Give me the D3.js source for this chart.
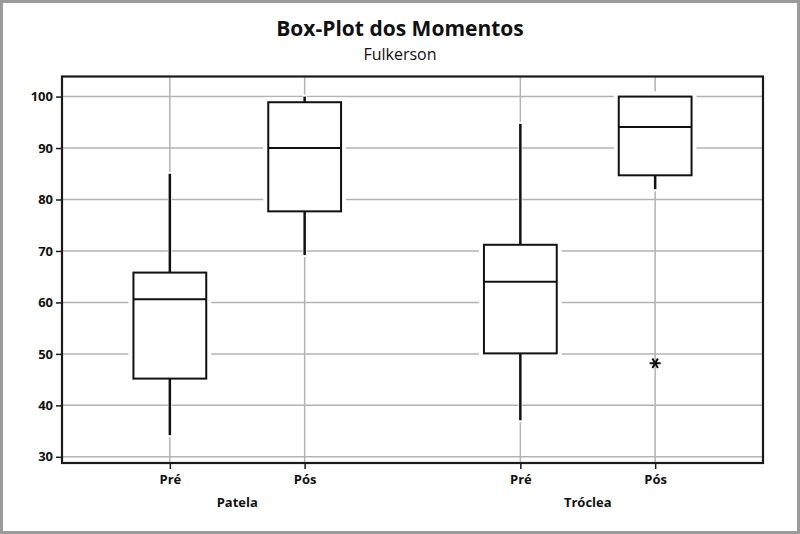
<!DOCTYPE html>
<html>
<head>
<meta charset="utf-8">
<script src="https://cdn.jsdelivr.net/npm/d3@7"></script>
<style>
  html, body { margin: 0; padding: 0; background: #fff; }
  svg { display: block; }
  text { font-family: "Open Sans", "DejaVu Sans", sans-serif; }
</style>
</head>
<body>
<svg id="chart" width="800" height="534"></svg>
<script>
// ---- Data ----
const groups = ["Patela", "Tróclea"];
const moments = ["Pré", "Pós"];
const whiskerLow  = [34.2, 69.2, 37.1, 82.0];
const q1          = [45.2, 77.7, 50.1, 84.7];
const median      = [60.6, 90.0, 64.0, 94.1];
const q3          = [65.8, 98.9, 71.2, 100.0];
const whiskerHigh = [85.0, 100.0, 94.7, 100.0];
const outlierGroup  = ["Tróclea"];
const outlierMoment = ["Pós"];
const outlierValue  = [48.2];
const yTicks = [30, 40, 50, 60, 70, 80, 90, 100];
const title = "Box-Plot dos Momentos";
const subtitle = "Fulkerson";

// ---- Layout ----
const W = 800, H = 534;
const plot = { left: 62, right: 763, top: 76.5, bottom: 463 };
const groupStep = 2.6;   // slot units between groups
const boxWidthUnits = 0.54;

const svg = d3.select("#chart");

// outer gray frame
svg.append("rect").attr("x", 1.5).attr("y", 1.5).attr("width", W - 3).attr("height", H - 3)
  .attr("fill", "#fff").attr("stroke", "#9a9a9a").attr("stroke-width", 3);

const x = d3.scaleLinear().domain([0.2, 5.4]).range([plot.left, plot.right]);
const y = d3.scaleLinear().domain([28.8, 103.9]).range([plot.bottom, plot.top]);

// build boxes
const boxes = [];
groups.forEach((g, gi) => {
  moments.forEach((m, mi) => {
    const i = gi * moments.length + mi;
    boxes.push({
      group: g, moment: m, slot: 1 + gi * groupStep + mi,
      lo: whiskerLow[i], q1: q1[i], med: median[i], q3: q3[i], hi: whiskerHigh[i]
    });
  });
});
const slotOf = (g, m) => boxes.find(b => b.group === g && b.moment === m).slot;

// gridlines
const grid = svg.append("g").attr("stroke", "#b3b3b3").attr("stroke-width", 1.5);
grid.selectAll("line.h").data(yTicks).join("line").attr("class", "h")
  .attr("x1", plot.left).attr("x2", plot.right)
  .attr("y1", d => y(d)).attr("y2", d => y(d));
grid.selectAll("line.v").data(boxes).join("line").attr("class", "v")
  .attr("x1", d => x(d.slot)).attr("x2", d => x(d.slot))
  .attr("y1", plot.top).attr("y2", plot.bottom);

// boxes with white halo
const bw = x(boxWidthUnits) - x(0);
const bg = svg.append("g");
// halos
bg.selectAll("line.wh").data(boxes.filter(b => b.hi > b.q3)).join("line")
  .attr("x1", d => x(d.slot)).attr("x2", d => x(d.slot))
  .attr("y1", d => y(d.q3)).attr("y2", d => y(d.hi) - 2)
  .attr("stroke", "#fff").attr("stroke-width", 4);
bg.selectAll("line.wl").data(boxes.filter(b => b.lo < b.q1)).join("line")
  .attr("x1", d => x(d.slot)).attr("x2", d => x(d.slot))
  .attr("y1", d => y(d.q1)).attr("y2", d => y(d.lo) + 2)
  .attr("stroke", "#fff").attr("stroke-width", 4);
bg.selectAll("rect.halo").data(boxes).join("rect")
  .attr("x", d => x(d.slot) - bw / 2).attr("width", bw)
  .attr("y", d => y(d.q3)).attr("height", d => y(d.q1) - y(d.q3))
  .attr("fill", "#fff").attr("stroke", "#fff").attr("stroke-width", 10);
// whiskers
bg.selectAll("line.wu").data(boxes.filter(b => b.hi > b.q3)).join("line")
  .attr("x1", d => x(d.slot)).attr("x2", d => x(d.slot))
  .attr("y1", d => y(d.q3)).attr("y2", d => y(d.hi))
  .attr("stroke", "#111").attr("stroke-width", 2.5);
bg.selectAll("line.wd").data(boxes.filter(b => b.lo < b.q1)).join("line")
  .attr("x1", d => x(d.slot)).attr("x2", d => x(d.slot))
  .attr("y1", d => y(d.q1)).attr("y2", d => y(d.lo))
  .attr("stroke", "#111").attr("stroke-width", 2.5);
// box rects
bg.selectAll("rect.box").data(boxes).join("rect")
  .attr("x", d => x(d.slot) - bw / 2).attr("width", bw)
  .attr("y", d => y(d.q3)).attr("height", d => y(d.q1) - y(d.q3))
  .attr("fill", "#fff").attr("stroke", "#111").attr("stroke-width", 2);
// medians
bg.selectAll("line.med").data(boxes).join("line")
  .attr("x1", d => x(d.slot) - bw / 2).attr("x2", d => x(d.slot) + bw / 2)
  .attr("y1", d => y(d.med)).attr("y2", d => y(d.med))
  .attr("stroke", "#111").attr("stroke-width", 2);

// outliers (asterisk)
const outl = outlierValue.map((v, i) => ({ slot: slotOf(outlierGroup[i], outlierMoment[i]), value: v }));
const r = 5.5;
const starPath = d3.path();
[0, 60, 120].forEach(a => {
  const rad = a * Math.PI / 180;
  starPath.moveTo(-r * Math.cos(rad), -r * Math.sin(rad));
  starPath.lineTo(r * Math.cos(rad), r * Math.sin(rad));
});
svg.append("g").selectAll("path").data(outl).join("path")
  .attr("transform", d => `translate(${x(d.slot)},${y(d.value)})`)
  .attr("d", starPath.toString())
  .attr("stroke", "#111").attr("stroke-width", 2).attr("fill", "none");

// frame
svg.append("rect").attr("x", plot.left).attr("y", plot.top)
  .attr("width", plot.right - plot.left).attr("height", plot.bottom - plot.top)
  .attr("fill", "none").attr("stroke", "#1a1a1a").attr("stroke-width", 2.2);

// y axis
const yAxis = svg.append("g").attr("transform", `translate(${plot.left - 1},0)`)
  .call(d3.axisLeft(y).tickValues(yTicks).tickSize(5).tickPadding(3));
yAxis.select(".domain").remove();
yAxis.selectAll(".tick line").attr("stroke", "#1a1a1a").attr("stroke-width", 1.5);
yAxis.selectAll(".tick text").attr("font-size", 13).attr("font-weight", "bold")
  .attr("fill", "#111").style("font-family", "'Open Sans', sans-serif");

// x axis
const xTickVals = boxes.map(b => b.slot);
const xAxis = svg.append("g").attr("transform", `translate(0,${plot.bottom + 1})`)
  .call(d3.axisBottom(x).tickValues(xTickVals).tickSize(5).tickPadding(6)
    .tickFormat((d, i) => boxes[i].moment));
xAxis.select(".domain").remove();
xAxis.selectAll(".tick line").attr("stroke", "#1a1a1a").attr("stroke-width", 1.5);
xAxis.selectAll(".tick text").attr("font-size", 13).attr("font-weight", "bold")
  .attr("fill", "#111").style("font-family", "'Open Sans', sans-serif");

// group labels
svg.append("g").selectAll("text").data(groups).join("text")
  .attr("x", g => x((slotOf(g, moments[0]) + slotOf(g, moments[moments.length - 1])) / 2))
  .attr("y", 507).attr("text-anchor", "middle")
  .attr("font-size", 13).attr("font-weight", "bold").attr("fill", "#111")
  .text(g => g);

// titles
svg.append("text").attr("x", 400).attr("y", 36).attr("text-anchor", "middle")
  .attr("font-size", 21).attr("font-weight", "bold").attr("fill", "#111").text(title);
svg.append("text").attr("x", 400).attr("y", 60).attr("text-anchor", "middle")
  .attr("font-size", 16).attr("fill", "#111").text(subtitle);
</script>
</body>
</html>
